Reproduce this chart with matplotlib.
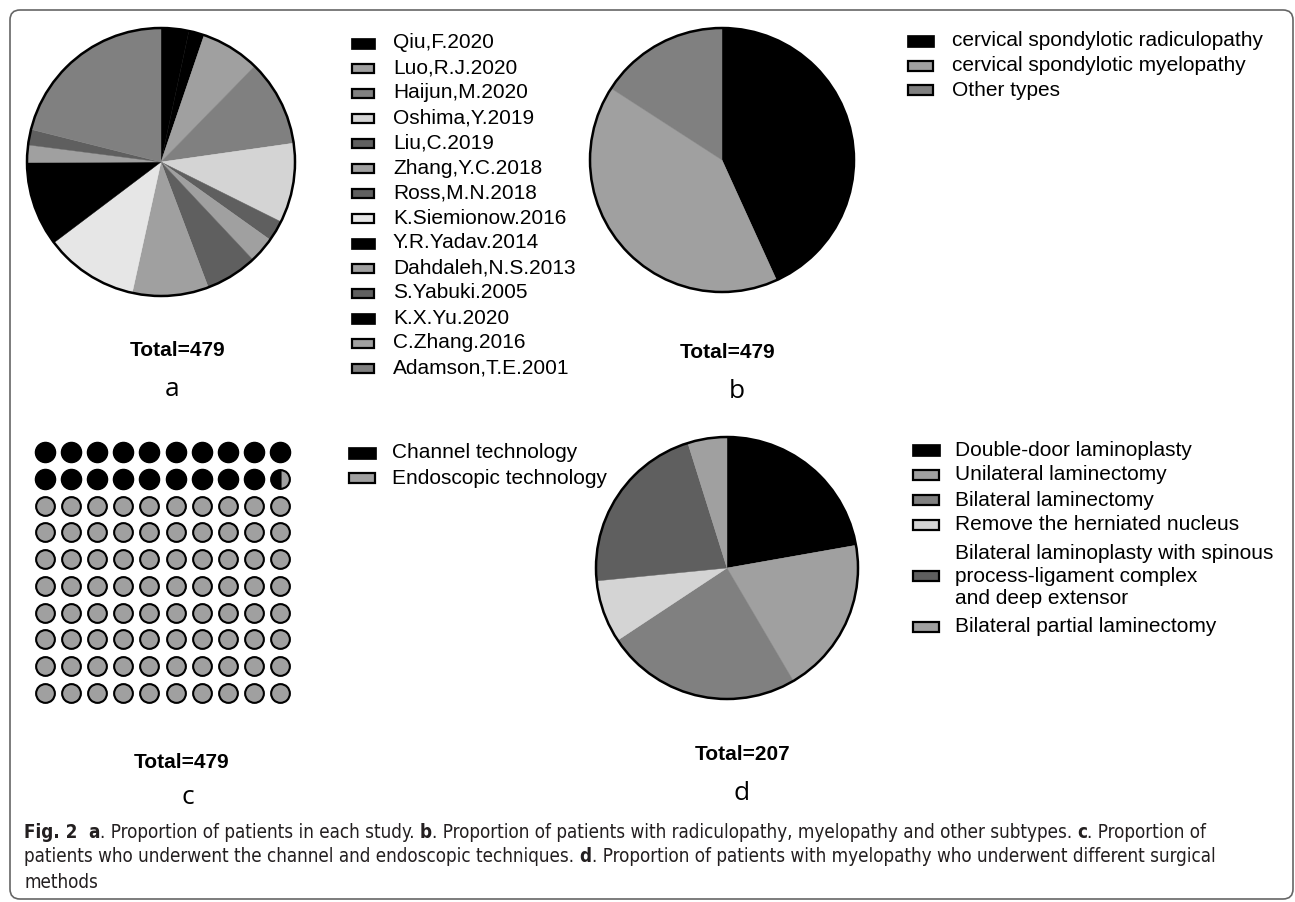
import numpy as np
import matplotlib.pyplot as plt
from matplotlib.patches import Circle, Rectangle, FancyBboxPatch
from matplotlib import font_manager
from matplotlib.font_manager import FontProperties

W, H = 1295, 902

# ---- data ----
studies = ['Qiu,F.2020', 'Luo,R.J.2020', 'Haijun,M.2020', 'Oshima,Y.2019', 'Liu,C.2019',
           'Zhang,Y.C.2018', 'Ross,M.N.2018', 'K.Siemionow.2016', 'Y.R.Yadav.2014',
           'Dahdaleh,N.S.2013', 'S.Yabuki.2005', 'K.X.Yu.2020', 'C.Zhang.2016', 'Adamson,T.E.2001']
study_patients = [16, 34, 50, 46, 12, 15, 30, 54, 49, 10, 9, 9, 44, 101]
study_colors = ['#000000', '#a0a0a0', '#808080', '#d4d4d4', '#5f5f5f', '#a0a0a0', '#5f5f5f',
                '#e6e6e6', '#000000', '#a0a0a0', '#5f5f5f', '#000000', '#a0a0a0', '#808080']
# order of the slices in pie a (clockwise from 12 o'clock)
pie_a_order = ['Qiu,F.2020', 'K.X.Yu.2020', 'Luo,R.J.2020', 'Haijun,M.2020', 'Oshima,Y.2019',
               'Liu,C.2019', 'Zhang,Y.C.2018', 'Ross,M.N.2018', 'C.Zhang.2016', 'K.Siemionow.2016',
               'Y.R.Yadav.2014', 'Dahdaleh,N.S.2013', 'S.Yabuki.2005', 'Adamson,T.E.2001']

types = ['cervical spondylotic radiculopathy', 'cervical spondylotic myelopathy', 'Other types']
type_patients = [207, 196, 76]
type_colors = ['#000000', '#a0a0a0', '#808080']

techs = ['Channel technology', 'Endoscopic technology']
tech_patients = [93, 386]
tech_colors = ['#000000', '#a0a0a0']

methods = ['Double-door laminoplasty', 'Unilateral laminectomy', 'Bilateral laminectomy',
           'Remove the herniated nucleus',
           'Bilateral laminoplasty with spinous\nprocess-ligament complex\nand deep extensor',
           'Bilateral partial laminectomy']
method_patients = [46, 40, 50, 16, 45, 10]
method_colors = ['#000000', '#a0a0a0', '#808080', '#d4d4d4', '#5f5f5f', '#a0a0a0']

caption = [
    "**Fig. 2** **a**. Proportion of patients in each study. **b**. Proportion of patients with radiculopathy, "
    "myelopathy and other subtypes. **c**. Proportion of",
    "patients who underwent the channel and endoscopic techniques. **d**. Proportion of patients with "
    "myelopathy who underwent different surgical",
    "methods",
]

plt.rcParams['font.family'] = ['Liberation Sans', 'DejaVu Sans']

fig = plt.figure(figsize=(W / 100, H / 100), dpi=100)
bg = fig.add_axes([0, 0, 1, 1])
bg.set_xlim(0, W)
bg.set_ylim(H, 0)
bg.axis('off')
renderer = fig.canvas.get_renderer()

bg.add_patch(FancyBboxPatch((10, 10), 1283, 889, boxstyle='round,pad=0,rounding_size=10',
                            fc='none', ec='#666666', lw=1.2))


# ---- caption font: a narrow sans face whose width fits the reference best ----
def wnum(f):
    return f.weight if isinstance(f.weight, int) else font_manager.weight_dict.get(f.weight, 400)


def text_w(s, fp):
    t = bg.text(0, 0, s, fontproperties=fp)
    w = t.get_window_extent(renderer).width
    t.remove()
    return w


groups = {}
for f in font_manager.fontManager.ttflist:
    if f.style != 'normal' or not f.fname.lower().endswith(('.ttf', '.otf')):
        continue
    if 'Serif' in f.name or 'Mono' in f.name or 'CJK' in f.name:
        continue
    narrow = 'Narrow' in f.name or 'Condensed' in f.name or 'condensed' in str(f.stretch)
    if not narrow and f.name != 'Liberation Sans':
        continue
    groups.setdefault((f.name, str(f.stretch)), []).append(f)

plain_line = caption[0].replace('**', '')
best = None
for key, fl in groups.items():
    reg = min(fl, key=lambda f: abs(wnum(f) - 400))
    bold = min(fl, key=lambda f: abs(wnum(f) - 700))
    if abs(wnum(reg) - 400) > 100:
        continue
    w = text_w(plain_line, FontProperties(fname=reg.fname, size=13.5))
    score = abs(w - 1188)
    if best is None or score < best[0]:
        bfp = FontProperties(fname=bold.fname) if wnum(bold) >= 600 else \
            FontProperties(fname=reg.fname, weight='bold')
        best = (score, FontProperties(fname=reg.fname), bfp)
CAP_REG, CAP_BOLD = best[1], best[2]


def draw_pie(cx, cy, r, vals, colors):
    ax = fig.add_axes([(cx - r) / W, 1 - (cy + r) / H, 2 * r / W, 2 * r / H])
    wedges, _ = ax.pie(vals, colors=colors, startangle=90, counterclock=False)
    for w in wedges:
        w.set_edgecolor(w.get_facecolor())
        w.set_linewidth(0.3)
    ax.add_patch(Circle((0, 0), 1, fill=False, ec='black', lw=1.8, clip_on=False))
    ax.set_xlim(-1, 1)
    ax.set_ylim(-1, 1)
    ax.axis('off')
    return ax


def draw_legend(x0, w, h, xt, rows, labels, colors):
    for y, lab, c in zip(rows, labels, colors):
        if c == '#000000':
            bg.add_patch(Rectangle((x0, y - h / 2), w, h, fc='black', ec='black', lw=0.5))
        else:
            bg.add_patch(Rectangle((x0 + 1, y - h / 2 + 1), w - 2, h - 2, fc=c, ec='black', lw=1.6))
        bg.text(xt, y, lab, ha='left', va='center', fontsize=15, linespacing=1.22)


# a
a_vals = [study_patients[studies.index(s)] for s in pie_a_order]
a_cols = [study_colors[studies.index(s)] for s in pie_a_order]
draw_pie(161, 162, 134, a_vals, a_cols)
draw_legend(351, 24, 11, 393, [43 + 25 * i for i in range(len(studies))], studies, study_colors)

# b
draw_pie(722, 160, 132, type_patients, type_colors)
draw_legend(907, 27, 12, 952, [41, 65.5, 90], types, type_colors)

# c  (waffle, 100 dots)
axw = fig.add_axes([32 / W, 1 - 706 / H, 261 / W, 267 / H])
units = 100 * tech_patients[0] / sum(tech_patients)
n_full = int(units)
half = units - n_full > 0.25
for k in range(100):
    row, col = divmod(k, 10)
    if k < n_full:
        axw.plot(col, row, 'o', ms=14.5, mfc=tech_colors[0], mec='black', mew=1.0)
    elif k == n_full and half:
        axw.plot(col, row, 'o', ms=13.5, fillstyle='left', mfc=tech_colors[0],
                 mfcalt=tech_colors[1], mec='black', mew=1.5)
    else:
        axw.plot(col, row, 'o', ms=13.5, mfc=tech_colors[1], mec='black', mew=1.5)
axw.set_xlim(-0.5, 9.5)
axw.set_ylim(9.5, -0.5)
axw.axis('off')
draw_legend(348, 28, 12, 392, [453, 478], techs, tech_colors)

# d
draw_pie(727, 568, 131, method_patients, method_colors)
draw_legend(912, 28, 12, 955, [450, 475, 500, 525, 576, 627], methods, method_colors)

# totals and panel letters
for x, y, s in [(178, 350, 'Total=479'), (728, 352, 'Total=479'),
                (182, 762, 'Total=479'), (743, 755, 'Total=207')]:
    bg.text(x, y, s, ha='center', va='center', fontsize=15, fontweight='bold')
for x, y, s in [(172, 390, 'a'), (737, 392, 'b'), (188, 797, 'c'), (742, 793, 'd')]:
    bg.text(x, y, s, ha='center', va='center', fontsize=19, family=['Open Sans', 'DejaVu Sans'])


# caption with bold runs
def cap_fp(bold, size):
    fp = (CAP_BOLD if bold else CAP_REG).copy()
    fp.set_size(size)
    return fp


def caption_line(x, y, line, size, draw=True):
    sp = text_w('a a', cap_fp(False, size)) - text_w('aa', cap_fp(False, size))
    for i, seg in enumerate(line.split('**')):
        bold = i % 2 == 1
        if not seg:
            continue
        core = seg.strip(' ')
        lead = len(seg) - len(seg.lstrip(' '))
        trail = len(seg) - len(seg.rstrip(' '))
        x += lead * sp
        if core:
            if draw:
                bg.text(x, y, core, fontproperties=cap_fp(bold, size), va='center', ha='left',
                        color='#231f20')
            x += text_w(core, cap_fp(bold, size))
        x += trail * sp
    return x


cap_x0 = 24
w12 = caption_line(cap_x0, 0, caption[0], 12, draw=False) - cap_x0
cap_size = min(12 * (1212 - cap_x0) / w12, 15)
for y, line in zip([832, 857, 883], caption):
    caption_line(cap_x0, y, line, cap_size)

fig.savefig('out.png', dpi=100)
